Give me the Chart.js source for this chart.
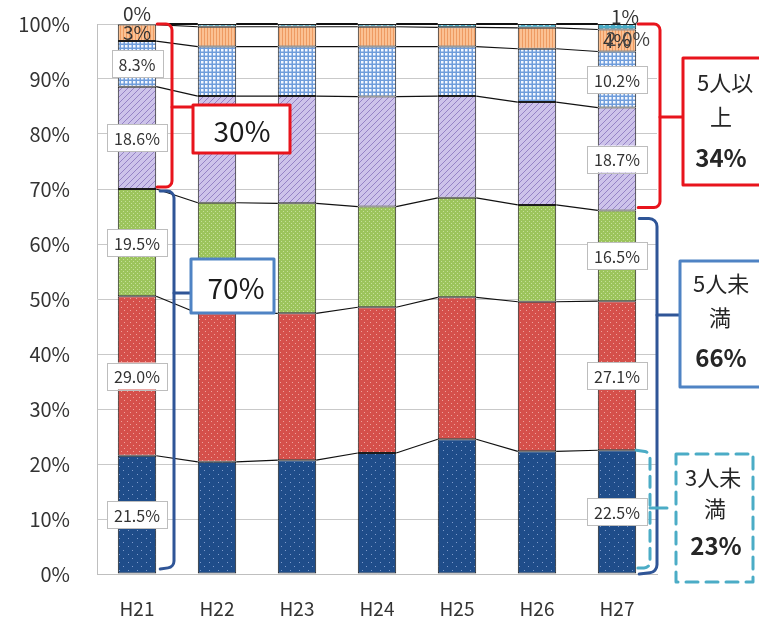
<!DOCTYPE html>
<html>
<head>
<meta charset="utf-8">
<script src="https://cdn.jsdelivr.net/npm/chart.js@4.4.1/dist/chart.umd.min.js"></script>
<style>
  html, body { margin: 0; padding: 0; background: #fff; }
  #wrap { width: 759px; height: 618px; position: relative; }
</style>
</head>
<body>
<div id="wrap"><canvas id="c" width="759" height="618"></canvas></div>
<script>
// Fiscal years (Heisei)
const years = ['H21', 'H22', 'H23', 'H24', 'H25', 'H26', 'H27'];

// Share of establishments by size band (%), stacked bottom to top
const band1 = [21.5, 20.4, 20.7, 22.0, 24.5, 22.3, 22.5];   // 3人未満
const band2 = [29.0, 27.0, 26.7, 26.5, 25.8, 27.2, 27.1];
const band3 = [19.5, 20.1, 20.0, 18.3, 18.1, 17.6, 16.5];
const band4 = [18.6, 19.4, 19.5, 20.0, 18.5, 18.7, 18.7];
const band5 = [8.3, 9.0, 9.0, 9.1, 9.0, 9.7, 10.2];
const band6 = [3.0, 3.6, 3.6, 3.6, 3.5, 3.8, 4.0];
const band7 = [0.1, 0.5, 0.5, 0.5, 0.6, 0.7, 1.0];

// Y axis tick values (%)
const yTickValues = [0, 10, 20, 30, 40, 50, 60, 70, 80, 90, 100];

// Summary callouts
const groupLeft = { upper: '30%', lower: '70%' };
const groupRight = {
  upper: ['5人以', '上', '34%'],
  lower: ['5人未', '満', '66%'],
  small: ['3人未', '満', '23%']
};
const strayLabel = '2.0%';

const FONT = '"Noto Sans CJK JP", "Noto Sans", sans-serif';

// ---------- fill patterns ----------
function makePattern(w, h, draw) {
  const c = document.createElement('canvas');
  c.width = w; c.height = h;
  const x = c.getContext('2d');
  draw(x, w, h);
  return x.createPattern(c, 'repeat');
}
const patNavy = makePattern(9, 8, (x, w, h) => {
  x.fillStyle = '#1f4d8a'; x.fillRect(0, 0, w, h);
  x.fillStyle = '#7f9ccc';
  x.fillRect(2, 2, 1, 1); x.fillRect(6, 6, 1, 1);
});
const patRed = makePattern(6, 6, (x, w, h) => {
  x.fillStyle = '#d5504b'; x.fillRect(0, 0, w, h);
  x.fillStyle = '#eea39d';
  x.fillRect(1, 1, 1, 1); x.fillRect(4, 4, 1, 1);
});
const patGreen = makePattern(4, 4, (x, w, h) => {
  x.fillStyle = '#9cc45c'; x.fillRect(0, 0, w, h);
  x.fillStyle = '#c6e09a';
  x.fillRect(1, 1, 1, 1); x.fillRect(3, 3, 1, 1);
});
const patPurple = makePattern(6, 6, (x, w, h) => {
  x.fillStyle = '#cdc3ea'; x.fillRect(0, 0, w, h);
  x.strokeStyle = '#9583c6'; x.lineWidth = 1;
  x.beginPath();
  x.moveTo(-1, 7); x.lineTo(7, -1);
  x.moveTo(-1, 1); x.lineTo(1, -1);
  x.moveTo(5, 7); x.lineTo(7, 5);
  x.stroke();
});
const patCheck = makePattern(4, 4, (x, w, h) => {
  x.fillStyle = '#6f9ddb'; x.fillRect(0, 0, w, h);
  x.fillStyle = '#f4f8ff'; x.fillRect(1, 1, 2.5, 2.5);
});
const patOrange = makePattern(3, 4, (x, w, h) => {
  x.fillStyle = '#fbc193'; x.fillRect(0, 0, w, h);
  x.fillStyle = '#ee9b62'; x.fillRect(0, 0, 1, h);
});
const patTeal = makePattern(6, 3, (x, w, h) => {
  x.fillStyle = '#4bacc6'; x.fillRect(0, 0, w, h);
  x.fillStyle = '#b9e2ee'; x.fillRect(3, 1, 2, 1);
});

const bands = [band1, band2, band3, band4, band5, band6, band7];
const fills = [patNavy, patRed, patGreen, patPurple, patCheck, patOrange, patTeal];

// ---------- connector lines between stacked segments ----------
const seriesLines = {
  id: 'seriesLines',
  afterDatasetsDraw(chart) {
    const ctx = chart.ctx;
    const n = chart.data.datasets.length;
    ctx.save();
    ctx.strokeStyle = '#111';
    chart.data.datasets.forEach((ds, d) => {
      const meta = chart.getDatasetMeta(d);
      ctx.lineWidth = d === n - 1 ? 2 : 1.2;
      for (let i = 0; i < meta.data.length - 1; i++) {
        const a = meta.data[i], b = meta.data[i + 1];
        ctx.beginPath();
        ctx.moveTo(a.x + a.width / 2, a.y);
        ctx.lineTo(b.x - b.width / 2, b.y);
        ctx.stroke();
      }
    });
    ctx.restore();
  }
};

// ---------- value labels on first and last bars ----------
const valueLabels = {
  id: 'valueLabels',
  afterDatasetsDraw(chart) {
    const ctx = chart.ctx;
    const cols = [0, chart.data.labels.length - 1];
    ctx.save();
    ctx.textAlign = 'center';
    ctx.textBaseline = 'middle';
    chart.data.datasets.forEach((ds, d) => {
      const meta = chart.getDatasetMeta(d);
      cols.forEach(i => {
        const el = meta.data[i];
        const v = ds.data[i];
        const cy = (el.y + el.base) / 2;
        if (v >= 5) {
          const txt = v.toFixed(1) + '%';
          ctx.font = '16px ' + FONT;
          const w = ctx.measureText(txt).width + 14;
          const h = 27;
          ctx.fillStyle = '#fff';
          ctx.fillRect(el.x - w / 2, cy - h / 2, w, h);
          ctx.strokeStyle = '#bdbdbd';
          ctx.lineWidth = 1;
          ctx.strokeRect(Math.round(el.x - w / 2) + 0.5, Math.round(cy - h / 2) + 0.5, Math.round(w), h);
          ctx.fillStyle = '#333';
          ctx.fillText(txt, el.x, cy + 1);
        } else {
          const txt = Math.round(v) + '%';
          ctx.font = '19px ' + FONT;
          ctx.fillStyle = '#333';
          const top = d === chart.data.datasets.length - 1;
          const dx = top && i > 0 ? 8 : 0;
          const dy = top ? -10 : 0;
          ctx.fillText(txt, el.x + dx, cy + dy);
        }
      });
    });
    // overlapping extra label on the last bar's orange segment
    const last = chart.data.labels.length - 1;
    const o = chart.getDatasetMeta(5).data[last];
    ctx.font = '19px ' + FONT;
    ctx.fillStyle = '#444';
    ctx.fillText(strayLabel, o.x + 11, (o.y + o.base) / 2 - 2);
    ctx.restore();
  }
};

// ---------- brackets and callout boxes ----------
function roundedPath(ctx, pts, r) {
  ctx.beginPath();
  ctx.moveTo(pts[0][0], pts[0][1]);
  for (let i = 1; i < pts.length - 1; i++) {
    ctx.arcTo(pts[i][0], pts[i][1], pts[i + 1][0], pts[i + 1][1], r);
  }
  ctx.lineTo(pts[pts.length - 1][0], pts[pts.length - 1][1]);
  ctx.stroke();
}
function line(ctx, x1, y1, x2, y2) {
  ctx.beginPath(); ctx.moveTo(x1, y1); ctx.lineTo(x2, y2); ctx.stroke();
}
function textLines(ctx, items) {
  items.forEach(([t, x, y, font, align]) => {
    ctx.font = font;
    ctx.textAlign = align || 'center';
    ctx.fillText(t, x, y);
  });
}

const callouts = {
  id: 'callouts',
  afterDraw(chart) {
    const ctx = chart.ctx;
    const ys = chart.scales.y;
    const m0 = chart.getDatasetMeta(0).data;
    const last = m0.length - 1;
    const r0 = m0[0].x + m0[0].width / 2;           // right edge of first bar
    const rL = m0[last].x + m0[last].width / 2;     // right edge of last bar
    const yTop = ys.getPixelForValue(100);
    const cum = (k, i) => bands.slice(0, k).reduce((s, b) => s + b[i], 0);
    const yL = ys.getPixelForValue(cum(3, 0));      // top of lower group, first bar
    const yR = ys.getPixelForValue(cum(3, last));   // top of lower group, last bar
    const yB1 = ys.getPixelForValue(cum(1, last));  // top of smallest band, last bar
    const y0 = ys.getPixelForValue(0);

    ctx.save();
    ctx.lineCap = 'round';
    ctx.lineJoin = 'round';
    ctx.textBaseline = 'middle';

    // left group: red (upper)
    ctx.strokeStyle = '#e8141c'; ctx.lineWidth = 3;
    roundedPath(ctx, [[r0 + 1, yTop], [172, yTop], [172, yL - 2], [r0 + 1, yL - 2]], 6);
    line(ctx, 172, 107, 193, 107);
    // left group: blue (lower)
    ctx.strokeStyle = '#2f5597';
    roundedPath(ctx, [[r0 + 4, yL + 2], [174, yL + 2], [174, y0 - 7], [r0 + 4, y0 - 5]], 7);
    line(ctx, 174, 293, 191, 293);

    // left callout boxes
    ctx.fillStyle = '#fff';
    ctx.strokeStyle = '#e8141c'; ctx.lineWidth = 3;
    ctx.fillRect(193, 105, 97, 48); ctx.strokeRect(193, 105, 97, 48);
    ctx.strokeStyle = '#4f83c4';
    ctx.fillRect(191, 259, 83, 54); ctx.strokeRect(191, 259, 83, 54);
    ctx.fillStyle = '#1a1a1a';
    textLines(ctx, [
      [groupLeft.upper, 242, 131, '28px ' + FONT],
      [groupLeft.lower, 236, 288, '28px ' + FONT]
    ]);

    // right group: red (upper)
    ctx.strokeStyle = '#e8141c'; ctx.lineWidth = 3;
    roundedPath(ctx, [[rL + 2, yTop], [660, yTop], [660, yR - 3], [rL + 2, yR - 3]], 6);
    line(ctx, 660, 117, 683, 117);
    // right group: blue (lower)
    ctx.strokeStyle = '#2f5597';
    roundedPath(ctx, [[rL + 3, yR + 8], [657, yR + 8], [657, y0 - 2], [rL + 3, y0]], 8);
    line(ctx, 657, 315, 680, 315);
    // right group: dashed (smallest band)
    ctx.strokeStyle = '#4bacc6';
    ctx.setLineDash([11, 7]);
    roundedPath(ctx, [[rL, yB1], [650, yB1 + 2], [650, y0 - 6], [rL, y0 - 6]], 6);
    ctx.setLineDash([]);
    line(ctx, 650, 508, 667, 508);

    // right callout boxes
    ctx.fillStyle = '#fff';
    ctx.strokeStyle = '#e8141c';
    ctx.fillRect(683, 58, 100, 127); ctx.strokeRect(683, 58, 100, 127);
    ctx.strokeStyle = '#4f83c4';
    ctx.fillRect(680, 261, 100, 126); ctx.strokeRect(680, 261, 100, 126);
    ctx.strokeStyle = '#4bacc6';
    ctx.setLineDash([12, 8]);
    ctx.strokeRect(676, 454, 77, 128);
    ctx.setLineDash([]);

    ctx.fillStyle = '#262626';
    const jp = '22px ' + FONT, big = 'bold 24px ' + FONT;
    textLines(ctx, [
      [groupRight.upper[0], 697, 83, jp, 'left'],
      [groupRight.upper[1], 721, 117, jp],
      [groupRight.upper[2], 721, 158, big],
      [groupRight.lower[0], 693, 284, jp, 'left'],
      [groupRight.lower[1], 720, 318, jp],
      [groupRight.lower[2], 721, 358, big],
      [groupRight.small[0], 685, 478, jp, 'left'],
      [groupRight.small[1], 715, 509, jp],
      [groupRight.small[2], 716, 546, big]
    ]);
    ctx.restore();
  }
};

const ctx = document.getElementById('c').getContext('2d');
new Chart(ctx, {
  type: 'bar',
  data: {
    labels: years,
    datasets: bands.map((b, k) => ({
      label: 'band' + (k + 1),
      data: b,
      backgroundColor: fills[k],
      borderColor: '#1c1c1c',
      borderWidth: 1,
      borderSkipped: false,
      categoryPercentage: 1,
      barPercentage: 0.48
    }))
  },
  options: {
    responsive: false,
    animation: false,
    devicePixelRatio: 1,
    layout: { padding: { left: 0, right: 102, top: 24, bottom: 0 } },
    plugins: { legend: { display: false }, tooltip: { enabled: false } },
    scales: {
      x: {
        stacked: true,
        grid: { display: false },
        border: { color: '#bfbfbf' },
        ticks: { color: '#333', font: { family: FONT, size: 19 }, padding: 15 },
        afterFit(s) { s.height = 44; }
      },
      y: {
        stacked: true,
        min: 0, max: 100,
        afterBuildTicks(s) { s.ticks = yTickValues.map(v => ({ value: v })); },
        grid: { color: '#c9c9c9', drawTicks: false },
        border: { color: '#bfbfbf' },
        ticks: {
          color: '#333',
          font: { family: FONT, size: 20 },
          padding: 27,
          callback: v => v + '%'
        },
        afterFit(s) { s.width = 97; s.paddingTop = 0; s.paddingBottom = 0; }
      }
    }
  },
  plugins: [seriesLines, valueLabels, callouts]
});
</script>
</body>
</html>
